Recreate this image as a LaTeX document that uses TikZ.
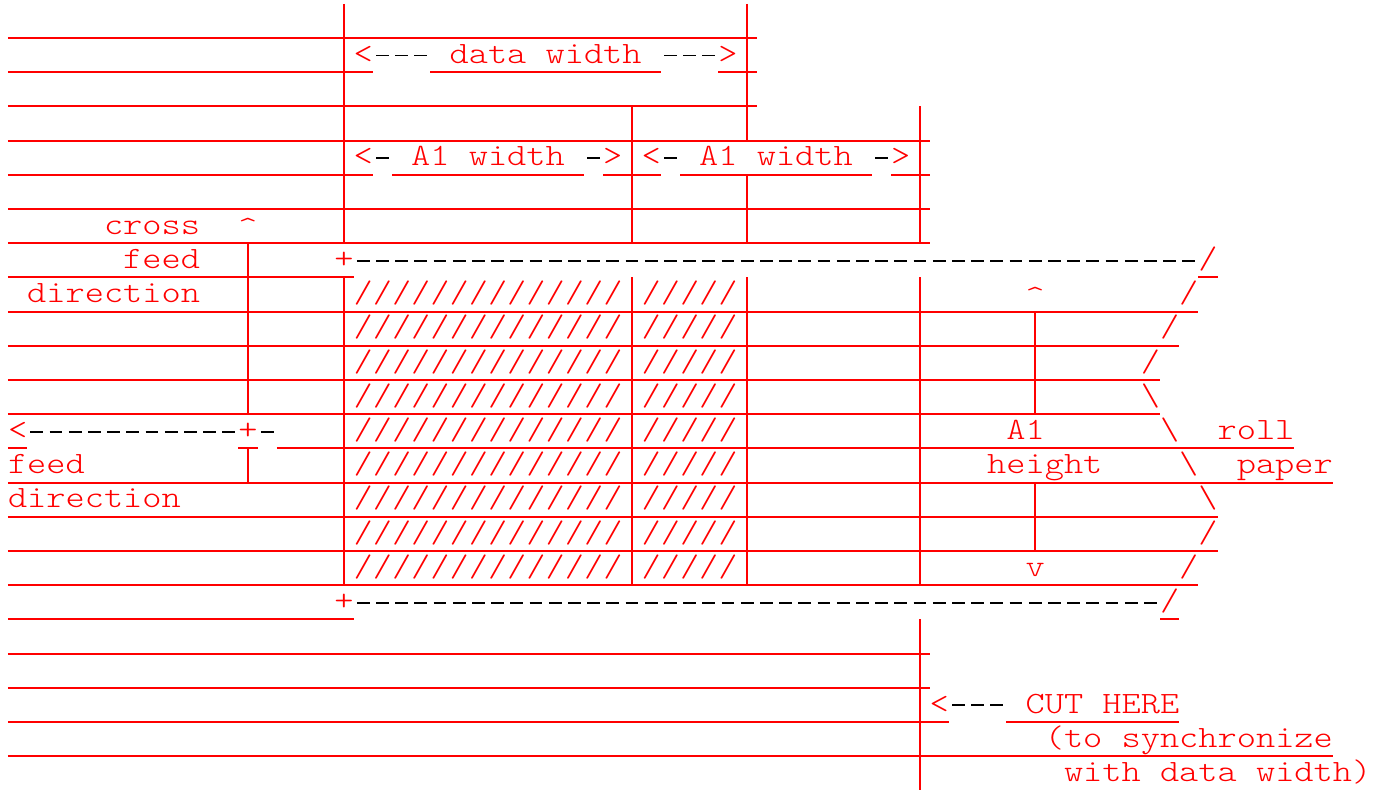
\documentclass[tikz,border=0pt]{standalone}
\usepackage{graphicx}
\definecolor{artred}{RGB}{255,0,0}
\newcommand{\mono}[1]{\scalebox{1.18}[1]{#1}}

\begin{document}
\begin{tikzpicture}[x=9.6pt,y=-17.1pt]
\tikzstyle{every node}+=[inner sep=0pt]
\tikzstyle{asc}=[text=artred, outer sep=0pt, anchor=base west, font=\fontseries{l}\ttfamily\fontsize{15.5}{17}\selectfont]
\tikzstyle{uline}=[artred, line width=1pt]
\tikzstyle{vbar}=[artred, line width=0.8pt]
\tikzstyle{dsh}=[black, line width=0.85pt, dash pattern=on 6.35pt off 3.25pt]
\useasboundingbox (-0.4167,-1.1111) rectangle (71.667,21.96);
\draw [uline] (0,0) -- (39,0);
\draw [uline] (0,1) -- (19,1);
\draw [uline] (22,1) -- (34,1);
\draw [uline] (37,1) -- (39,1);
\draw [uline] (0,2) -- (39,2);
\draw [uline] (0,3) -- (48,3);
\draw [uline] (0,4) -- (19,4);
\draw [uline] (20,4) -- (30,4);
\draw [uline] (31,4) -- (34,4);
\draw [uline] (35,4) -- (45,4);
\draw [uline] (46,4) -- (48,4);
\draw [uline] (0,5) -- (48,5);
\draw [uline] (0,6) -- (48,6);
\draw [uline] (0,7) -- (18,7);
\draw [uline] (62,7) -- (63,7);
\draw [uline] (0,8) -- (62,8);
\draw [uline] (0,9) -- (61,9);
\draw [uline] (0,10) -- (60,10);
\draw [uline] (0,11) -- (60,11);
\draw [uline] (0,12) -- (1,12);
\draw [uline] (12,12) -- (13,12);
\draw [uline] (14,12) -- (67,12);
\draw [uline] (0,13) -- (69,13);
\draw [uline] (0,14) -- (63,14);
\draw [uline] (0,15) -- (63,15);
\draw [uline] (0,16) -- (62,16);
\draw [uline] (0,17) -- (18,17);
\draw [uline] (60,17) -- (61,17);
\draw [uline] (0,18) -- (48,18);
\draw [uline] (0,19) -- (48,19);
\draw [uline] (0,20) -- (49,20);
\draw [uline] (52,20) -- (61,20);
\draw [uline] (0,21) -- (69,21);
\draw [vbar] (17.5,-1) -- (17.5,6);
\draw [vbar] (17.5,7) -- (17.5,16);
\draw [vbar] (38.5,-1) -- (38.5,3);
\draw [vbar] (38.5,4) -- (38.5,6);
\draw [vbar] (38.5,7) -- (38.5,16);
\draw [vbar] (32.5,2) -- (32.5,6);
\draw [vbar] (32.5,7) -- (32.5,16);
\draw [vbar] (47.5,2) -- (47.5,6);
\draw [vbar] (47.5,7) -- (47.5,16);
\draw [vbar] (47.5,17) -- (47.5,22);
\draw [vbar] (12.5,6) -- (12.5,11);
\draw [vbar] (12.5,12) -- (12.5,13);
\draw [vbar] (53.5,8) -- (53.5,11);
\draw [vbar] (53.5,13) -- (53.5,15);
\draw [dsh] (19.17,0.512) -- (21.83,0.512);
\draw [dsh] (34.17,0.512) -- (36.83,0.512);
\draw [dsh] (19.17,3.512) -- (19.83,3.512);
\draw [dsh] (30.17,3.512) -- (30.83,3.512);
\draw [dsh] (34.17,3.512) -- (34.83,3.512);
\draw [dsh] (45.17,3.512) -- (45.83,3.512);
\draw [dsh] (18.17,6.512) -- (61.83,6.512);
\draw [dsh] (1.17,11.512) -- (11.83,11.512);
\draw [dsh] (13.17,11.512) -- (13.83,11.512);
\draw [dsh] (18.17,16.512) -- (59.83,16.512);
\draw [dsh] (49.17,19.512) -- (51.83,19.512);
\node [asc] (dwleft) at (18,0.737) {\mono{<}};
\node [asc] (dwtext) at (23,0.737) {\mono{data width}};
\node [asc] (dwright) at (37,0.737) {\mono{>}};
\node [asc] (aoneleft) at (18,3.737) {\mono{<}};
\node [asc] (aonetext) at (21,3.737) {\mono{A1 width}};
\node [asc] (aoneright) at (31,3.737) {\mono{>}};
\node [asc] (atwoleft) at (33,3.737) {\mono{<}};
\node [asc] (atwotext) at (36,3.737) {\mono{A1 width}};
\node [asc] (atworight) at (46,3.737) {\mono{>}};
\node [asc] (cross) at (5,5.737) {\mono{cross}};
\node [asc] (crossup) at (12,5.837) {\mono{\textasciicircum}};
\node [asc] (crossfeed) at (6,6.737) {\mono{feed}};
\node [asc] (cornertop) at (17,6.737) {\mono{+}};
\node [asc] (rolla) at (62,6.737) {\mono{/}};
\node [asc] (crossdir) at (1,7.737) {\mono{direction}};
\node [asc] (heightup) at (53,7.837) {\mono{\textasciicircum}};
\node [asc] (rollb) at (61,7.737) {\mono{/}};
\node [asc] (rollc) at (60,8.737) {\mono{/}};
\node [asc] (rolld) at (59,9.737) {\mono{/}};
\node [asc] (rolle) at (59,10.737) {\mono{\textbackslash}};
\node [asc] (feedleft) at (0,11.737) {\mono{<}};
\node [asc] (feedcross) at (12,11.737) {\mono{+}};
\node [asc] (aoneh) at (52,11.737) {\mono{A1}};
\node [asc] (rollf) at (60,11.737) {\mono{\textbackslash}};
\node [asc] (roll) at (63,11.737) {\mono{roll}};
\node [asc] (feed) at (0,12.737) {\mono{feed}};
\node [asc] (height) at (51,12.737) {\mono{height}};
\node [asc] (rollg) at (61,12.737) {\mono{\textbackslash}};
\node [asc] (paper) at (64,12.737) {\mono{paper}};
\node [asc] (feeddir) at (0,13.737) {\mono{direction}};
\node [asc] (rollh) at (62,13.737) {\mono{\textbackslash}};
\node [asc] (rolli) at (62,14.737) {\mono{/}};
\node [asc] (heightdown) at (53,15.737) {\mono{v}};
\node [asc] (rollj) at (61,15.737) {\mono{/}};
\node [asc] (cornerbot) at (17,16.737) {\mono{+}};
\node [asc] (rollk) at (60,16.737) {\mono{/}};
\node [asc] (cutleft) at (48,19.737) {\mono{<}};
\node [asc] (cut) at (53,19.737) {\mono{CUT HERE}};
\node [asc] (cutnote) at (54,20.737) {\mono{(to synchronize}};
\node [asc] (cutnotb) at (55,21.737) {\mono{with data width)}};
\foreach \r in {8,...,16} {
\node [asc] (hatchl\r) at (18,\r-0.263) {\mono{//////////////}};
\node [asc] (hatchr\r) at (33,\r-0.263) {\mono{/////}};
}
\end{tikzpicture}
\end{document}
